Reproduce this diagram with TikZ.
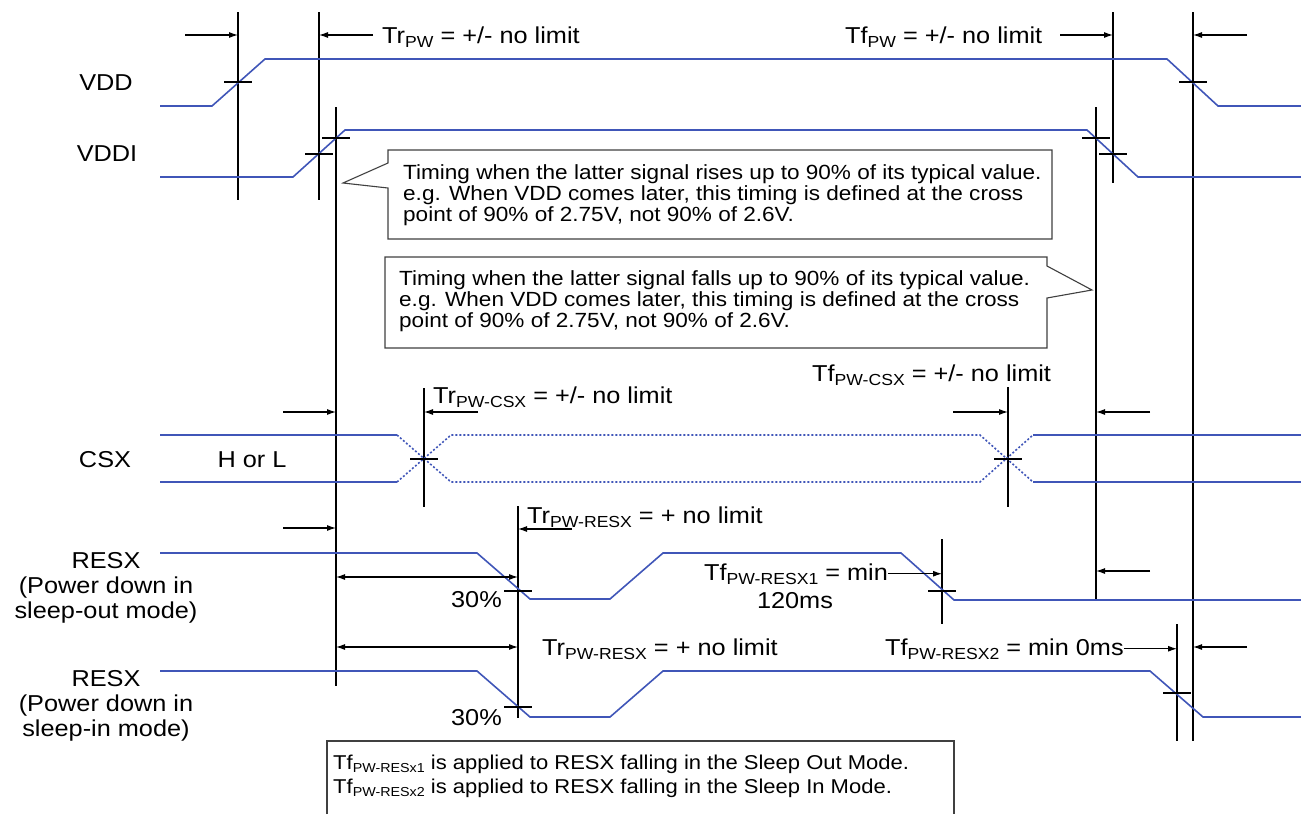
\documentclass[tikz,border=0pt]{standalone}
\usepackage{fontspec}
\setmainfont{Liberation Sans}[FakeStretch=1.1]
\usetikzlibrary{arrows.meta}

\definecolor{sigblue}{RGB}{64,86,184}

\newcommand{\subx}[1]{\raisebox{-4pt}{\fontsize{16}{16}\selectfont #1}}
\newcommand{\subn}[1]{\raisebox{-3pt}{\fontsize{13}{13}\selectfont #1}}
\newcommand{\crossmark}[1]{
\draw [xmarkline] (#1) ++(-14,0) -- ++(28,0);
}

\tikzset{
  sig/.style={draw=sigblue,line width=1.6pt},
  sigdot/.style={sig,dash pattern=on 2pt off 2pt},
  guide/.style={draw=black,line width=1.1pt},
  xmarkline/.style={draw=black,line width=1.1pt},
  tarr/.style={draw=black,line width=1.1pt,-{Latex[length=9pt,width=6pt]}},
  darr/.style={draw=black,line width=1.1pt,{Latex[length=9pt,width=6pt]}-{Latex[length=9pt,width=6pt]}},
  lbl/.style={inner sep=0pt,font=\fontsize{23}{25}\selectfont},
  note/.style={inner sep=0pt,font=\fontsize{20.5}{21}\selectfont,align=left},
  fnote/.style={note,font=\fontsize{20}{24}\selectfont},
  callout/.style={draw=black!75,line width=1.1pt,fill=white}
}

\begin{document}
\begin{tikzpicture}[x=1pt,y=-1pt]
\useasboundingbox (0,0) rectangle (1301,814);

% guide lines
\path (238,12) coordinate (G1t) (238,200) coordinate (G1b);
\path (319,12) coordinate (G2t) (319,200) coordinate (G2b);
\path (336,107) coordinate (G3t) (336,686) coordinate (G3b);
\path (1096,107) coordinate (G4t) (1096,600) coordinate (G4b);
\path (1113,12) coordinate (G5t) (1113,183) coordinate (G5b);
\path (1193,12) coordinate (G6t) (1193,741) coordinate (G6b);
\path (424,388) coordinate (C1t) (424,507) coordinate (C1b);
\path (1008,387) coordinate (C2t) (1008,507) coordinate (C2b);
\path (518,506) coordinate (R1t) (518,718) coordinate (R1b);
\path (942,539) coordinate (R2t) (942,624) coordinate (R2b);
\path (1177,624) coordinate (R3t) (1177,741) coordinate (R3b);
\foreach \g in {G1,G2,G3,G4,G5,G6,C1,C2,R1,R2,R3}
  \draw [guide] (\g t) -- (\g b);

% signals
\draw [sig] (160,106) -- (212,106) -- (265,59) -- (1167,59) -- (1218,106) -- (1301,106);
\draw [sig] (160,177) -- (293,177) -- (345,130) -- (1087,130) -- (1138,177) -- (1301,177);
\draw [sig] (160,435) -- (397,435) (160,482) -- (397,482);
\draw [sigdot] (397,435) -- (451,482) -- (980,482) -- (1033,435);
\draw [sigdot] (397,482) -- (451,435) -- (980,435) -- (1033,482);
\draw [sig] (1033,435) -- (1301,435) (1033,482) -- (1301,482);
\draw [sig] (160,553) -- (477,553) -- (530,599) -- (610,599) -- (663,553) -- (901,553) -- (954,600) -- (1301,600);
\draw [sig] (160,671) -- (477,671) -- (530,717) -- (610,717) -- (663,671) -- (1150,671) -- (1203,717) -- (1301,717);

\foreach \p in {{238,82},{1193,82},{319,154},{336,138},{1096,138},{1113,154},{424,459},{1008,459},{518,591},{518,707},{942,591},{1177,693}}
  \crossmark{\p};

% signal names
\node [lbl,anchor=base] (vdd) at (106,90) {VDD};
\node [lbl,anchor=base] (vddi) at (107,161) {VDDI};
\node [lbl,anchor=base] (csx) at (105,467) {CSX};
\node [lbl,anchor=base] (hl) at (252,467) {H or L};
\node [lbl,anchor=north,align=center] (resxa) at (106,552) {RESX\\(Power down in\\sleep-out mode)};
\node [lbl,anchor=north,align=center] (resxb) at (106,670) {RESX\\(Power down in\\sleep-in mode)};

% timing labels
\node [lbl,anchor=base west] (trpw) at (382,43) {Tr\subx{PW} = +/- no limit};
\node [lbl,anchor=base west] (tfpw) at (845,43) {Tf\subx{PW} = +/- no limit};
\node [lbl,anchor=base west] (trcsx) at (433,403) {Tr\subx{PW-CSX} = +/- no limit};
\node [lbl,anchor=base west] (tfcsx) at (812,381) {Tf\subx{PW-CSX} = +/- no limit};
\node [lbl,anchor=base west] (trresa) at (527,523) {Tr\subx{PW-RESX} = + no limit};
\node [lbl,anchor=base west] (trresb) at (542,655) {Tr\subx{PW-RESX} = + no limit};
\node [lbl,anchor=base west] (tfresa) at (704,580) {Tf\subx{PW-RESX1} = min};
\node [lbl,anchor=base] (ms120) at (795,608) {120ms};
\node [lbl,anchor=base west] (tfresb) at (885,655) {Tf\subx{PW-RESX2} = min 0ms};
\node [lbl,anchor=base east] (pcta) at (502,607) {30\%};
\node [lbl,anchor=base east] (pctb) at (502,725) {30\%};

% timing arrows
\path (185,35) coordinate (a1) (373,35) coordinate (a2) (1060,35) coordinate (a3) (1247,35) coordinate (a4);
\draw [tarr] (a1) -- (a1 -| G1t);
\draw [tarr] (a2) -- (a2 -| G2t);
\draw [tarr] (a3) -- (a3 -| G5t);
\draw [tarr] (a4) -- (a4 -| G6t);
\path (283,412) coordinate (b1) (478,412) coordinate (b2) (953,412) coordinate (b3) (1150,412) coordinate (b4);
\draw [tarr] (b1) -- (b1 -| G3t);
\draw [tarr] (b2) -- (b2 -| C1t);
\draw [tarr] (b3) -- (b3 -| C2t);
\draw [tarr] (b4) -- (b4 -| G4t);
\path (283,528) coordinate (c1) (572,529) coordinate (c2) (1150,571) coordinate (c3) (1247,647) coordinate (c4);
\draw [tarr] (c1) -- (c1 -| G3t);
\draw [tarr] (c2) -- (c2 -| R1t);
\draw [tarr] (c3) -- (c3 -| G4t);
\draw [tarr] (c4) -- (c4 -| G6t);
\draw [tarr] (tfresa.east) -- (tfresa.east -| R2t);
\draw [tarr] (tfresb.east) -- (tfresb.east -| R3t);
\path (336,577) coordinate (d1) (336,647) coordinate (d2);
\draw [darr] (d1) -- (d1 -| R1t);
\draw [darr] (d2) -- (d2 -| R1t);

% call-outs
\draw [callout] (388,150) -- (1052,150) -- (1052,239) -- (388,239) -- (388,188) -- (343,183) -- (388,163) -- cycle;
\node [note,anchor=north west] (rise) at (403,164) {Timing when the latter signal rises up to 90\% of its typical value.\\e.g. When VDD comes later, this timing is defined at the cross\\point of 90\% of 2.75V, not 90\% of 2.6V.};
\draw [callout] (385,257) -- (1047,257) -- (1047,266) -- (1092,290) -- (1047,298) -- (1047,348) -- (385,348) -- cycle;
\node [note,anchor=north west] (fall) at (399,270) {Timing when the latter signal falls up to 90\% of its typical value.\\e.g. When VDD comes later, this timing is defined at the cross\\point of 90\% of 2.75V, not 90\% of 2.6V.};
\draw [callout,fill=none] (327,814) -- (327,741) -- (954,741) -- (954,814);
\node [fnote,anchor=north west] (modes) at (333,755) {Tf\subn{PW-RESx1} is applied to RESX falling in the Sleep Out Mode.\\Tf\subn{PW-RESx2} is applied to RESX falling in the Sleep In Mode.};

\end{tikzpicture}
\end{document}
